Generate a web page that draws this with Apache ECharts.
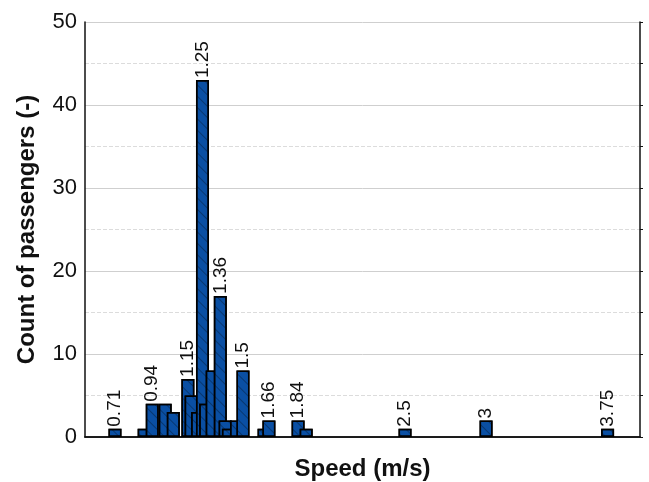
<!DOCTYPE html>
<html>
<head>
<meta charset="utf-8">
<script src="https://cdn.jsdelivr.net/npm/echarts@6/dist/echarts.min.js"></script>
<style>html,body{margin:0;padding:0;background:#fff}#c{width:649px;height:482px}</style>
</head>
<body>
<div id="c"></div>
<script>
// speed (m/s), count, label shown above bar ('' = none)
const speeds = [0.71, 0.89, 0.94, 1.02, 1.07, 1.16, 1.18, 1.22, 1.25, 1.27, 1.31, 1.36, 1.39, 1.41, 1.46, 1.5, 1.63, 1.66, 1.84, 1.89, 2.5, 3, 3.75];
const counts = [1, 1, 4, 4, 3, 7, 5, 3, 43, 4, 8, 17, 2, 1, 2, 8, 1, 2, 2, 1, 1, 2, 1];
const labels = ['0.71', '', '0.94', '', '', '1.15', '', '', '1.25', '', '', '1.36', '', '', '', '1.5', '', '1.66', '1.84', '', '2.5', '3', '3.75'];

const font = 'Liberation Sans, Arial, sans-serif';
const data = speeds.map((s, i) => ({
    value: [s, counts[i]],
    label: {show: labels[i] !== '', formatter: labels[i]},
}));

const chart = echarts.init(document.getElementById('c'));
chart.setOption({
    animation: false,
    grid: {left: 85, right: 9, top: 22, bottom: 45, outerBoundsMode: 'none', containLabel: false},
    xAxis: [
        {
            type: 'value', min: 0.525, max: 3.95,
            name: 'Speed (m/s)', nameLocation: 'middle', nameGap: 20,
            nameTextStyle: {fontFamily: font, fontWeight: 'bold', fontSize: 24, color: '#111'},
            axisLine: {show: true, lineStyle: {color: '#111', width: 1.5}},
            axisTick: {show: false}, axisLabel: {show: false}, splitLine: {show: false},
        },
        {
            type: 'value', position: 'top', min: 0.525, max: 3.95,
            axisLine: {show: true, lineStyle: {color: '#111', width: 1.5}},
            axisTick: {show: false}, axisLabel: {show: false}, splitLine: {show: false},
        },
    ],
    yAxis: [
        {
            type: 'value', min: 0, max: 50, interval: 10,
            name: 'Count of passengers (-)', nameLocation: 'middle', nameGap: 46,
            nameTextStyle: {fontFamily: font, fontWeight: 'bold', fontSize: 24, color: '#111'},
            axisLine: {show: true, lineStyle: {color: '#111', width: 1.5}},
            axisTick: {show: false},
            axisLabel: {fontFamily: font, fontSize: 22, color: '#111', margin: 8},
            splitLine: {lineStyle: {color: '#cfcfcf'}},
            minorTick: {show: false, splitNumber: 2},
            minorSplitLine: {show: true, lineStyle: {color: '#dcdcdc', type: 'dashed'}},
        },
        {
            type: 'value', position: 'right', min: 0, max: 50, interval: 5,
            axisLine: {show: true, lineStyle: {color: '#111', width: 1.5}},
            axisTick: {show: true, length: 3, lineStyle: {color: '#111'}},
            axisLabel: {show: false}, splitLine: {show: false},
        },
    ],
    series: [{
        type: 'bar',
        barWidth: 13,
        data: data,
        itemStyle: {
            color: '#0a4fa3', borderColor: '#000', borderWidth: 1.5,
            decal: {color: 'rgba(0,0,0,0.3)', dashArrayX: [1, 0], dashArrayY: [1, 7], rotation: Math.PI / 4},
        },
        label: {
            position: 'top', rotate: 90, align: 'left', verticalAlign: 'middle', distance: 2,
            fontFamily: font, fontSize: 19, color: '#111',
        },
    }],
});
</script>
</body>
</html>
